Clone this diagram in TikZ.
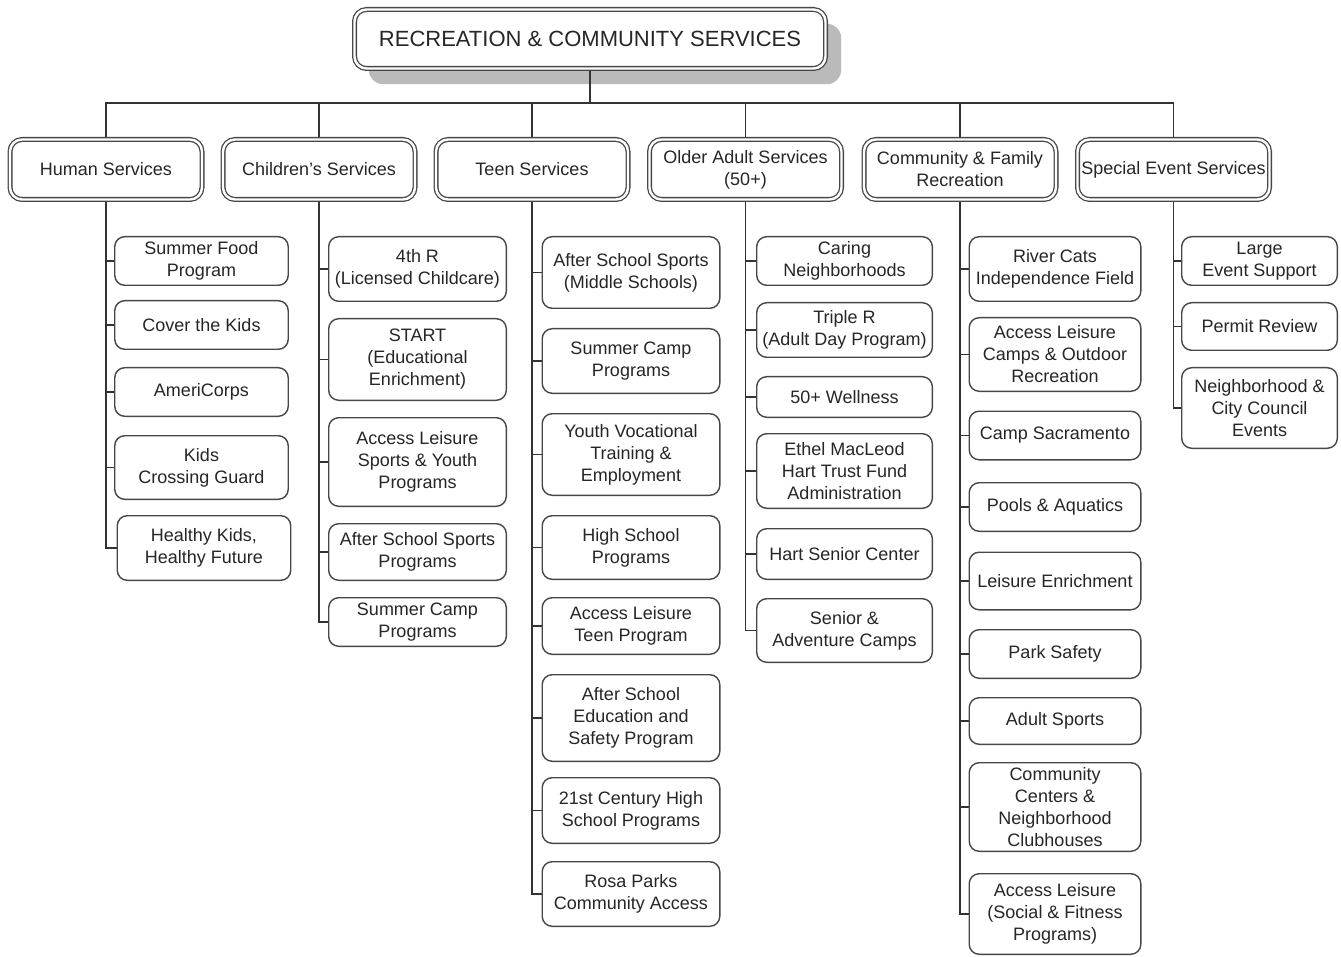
\documentclass[tikz,border=0pt]{standalone}
\usepackage{fontspec}
\setmainfont{Liberation Sans}
\usetikzlibrary{backgrounds}
\begin{document}
\begin{tikzpicture}[x=1pt,y=-1pt,
  cbox/.style={draw=black!72, line width=1.4pt, rounded corners=10pt, fill=white,
    align=center, inner sep=1pt, font=\fontsize{18}{22}\selectfont, text=black!85},
  dbox/.style={draw=black!72, double=white, double distance=2.4pt, line width=1.3pt,
    rounded corners=12pt, fill=white, align=center, inner sep=1pt,
    font=\fontsize{18}{22}\selectfont, text=black!85,
    minimum width=192pt, minimum height=60pt},
  conn/.style={draw=black!80, line width=1.6pt},
  shadowfill/.style={fill=black!27, rounded corners=14pt}
]
\useasboundingbox (0,0) rectangle (1341,957);

% root
\node[dbox, minimum width=471pt, minimum height=59pt, font=\fontsize{22}{26}\selectfont]
  (root) at (590,39) {RECREATION \& COMMUNITY SERVICES};

% level 1
\node[dbox] (h) at (106,169.5) {Human Services};
\node[dbox] (c) at (319,169.5) {Children's Services};
\node[dbox] (t) at (532,169.5) {Teen Services};
\node[dbox] (o) at (745.5,169.5) {Older Adult Services\\(50+)};
\node[dbox] (f) at (960,169.5) {Community \& Family\\Recreation};
\node[dbox] (s) at (1173.5,169.5) {Special Event Services};

% Human Services
\begin{scope}[every node/.append style={cbox, minimum width=173.5pt}]
\node[minimum height=48.6pt] (h1) at (201.5,261) {Summer Food\\Program};
\node[minimum height=48.6pt] (h2) at (201.5,325) {Cover the Kids};
\node[minimum height=48.6pt] (h3) at (201.5,392) {AmeriCorps};
\node[minimum height=63.6pt] (h4) at (201.5,467.5) {Kids\\Crossing Guard};
\node[minimum height=64.6pt] (h5) at (204,548) {Healthy Kids,\\Healthy Future};
\end{scope}

% Children's Services
\begin{scope}[every node/.append style={cbox, minimum width=177.6pt}]
\node[minimum height=64.6pt] (c1) at (417.5,269) {4th R\\(Licensed Childcare)};
\node[minimum height=81.6pt] (c2) at (417.5,359.5) {START\\(Educational\\Enrichment)};
\node[minimum height=88.6pt] (c3) at (417.5,462) {Access Leisure\\Sports \& Youth\\Programs};
\node[minimum height=56.6pt] (c4) at (417.5,552) {After School Sports\\Programs};
\node[minimum height=48.6pt] (c5) at (417.5,622) {Summer Camp\\Programs};
\end{scope}

% Teen Services
\begin{scope}[every node/.append style={cbox, minimum width=177.6pt}]
\node[minimum height=71.6pt] (t1) at (631,272.5) {After School Sports\\(Middle Schools)};
\node[minimum height=64.6pt] (t2) at (631,361) {Summer Camp\\Programs};
\node[minimum height=81.6pt] (t3) at (631,454.5) {Youth Vocational\\Training \&\\Employment};
\node[minimum height=63.6pt] (t4) at (631,547.5) {High School\\Programs};
\node[minimum height=56.6pt] (t5) at (631,626) {Access Leisure\\Teen Program};
\node[minimum height=86.6pt] (t6) at (631,718) {After School\\Education and\\Safety Program};
\node[minimum height=65.6pt] (t7) at (631,810.5) {21st Century High\\School Programs};
\node[minimum height=64.6pt] (t8) at (631,894) {Rosa Parks\\Community Access};
\end{scope}

% Older Adult Services
\begin{scope}[every node/.append style={cbox, minimum width=175.6pt}]
\node[minimum height=48.6pt] (o1) at (844.5,261) {Caring\\Neighborhoods};
\node[minimum height=54.6pt] (o2) at (844.5,330) {Triple R\\(Adult Day Program)};
\node[minimum height=40.6pt] (o3) at (844.5,397) {50+ Wellness};
\node[minimum height=74.6pt] (o4) at (844.5,471) {Ethel MacLeod\\Hart Trust Fund\\Administration};
\node[minimum height=50.6pt] (o5) at (844.5,554) {Hart Senior Center};
\node[minimum height=63.6pt] (o6) at (844.5,630.5) {Senior \&\\Adventure Camps};
\end{scope}

% Community & Family Recreation
\begin{scope}[every node/.append style={cbox, minimum width=171.6pt}]
\node[minimum height=64.6pt] (f1) at (1055,269) {River Cats\\Independence Field};
\node[minimum height=73.6pt] (f2) at (1055,354.5) {Access Leisure\\Camps \& Outdoor\\Recreation};
\node[minimum height=48.6pt] (f3) at (1055,435.5) {Camp Sacramento};
\node[minimum height=48.6pt] (f4) at (1055,507) {Pools \& Aquatics};
\node[minimum height=57.6pt] (f5) at (1055,581) {Leisure Enrichment};
\node[minimum height=48.6pt] (f6) at (1055,654) {Park Safety};
\node[minimum height=46.6pt] (f7) at (1055,721) {Adult Sports};
\node[minimum height=88.6pt] (f8) at (1055,807) {Community\\Centers \&\\Neighborhood\\Clubhouses};
\node[minimum height=80.6pt] (f9) at (1055,914) {Access Leisure\\(Social \& Fitness\\Programs)};
\end{scope}

% Special Event Services
\begin{scope}[every node/.append style={cbox, minimum width=155.6pt}]
\node[minimum height=48.6pt] (s1) at (1259.5,261) {Large\\Event Support};
\node[minimum height=47.6pt] (s2) at (1259.5,326.5) {Permit Review};
\node[minimum height=80.6pt] (s3) at (1259.5,408) {Neighborhood \&\\City Council\\Events};
\end{scope}

\coordinate (bar) at (590,103);

\begin{scope}[on background layer]
  \fill[white] (0,0) rectangle (1341,957);
  \fill[shadowfill] ([shift={(15,15)}]root.north west) rectangle ([shift={(15,15)}]root.south east);
  % root to bar
  \draw[conn] (root.south) -- (bar);
  \draw[conn] (h.north) |- (s.north |- bar) -- (s.north);
  \foreach \n in {c,t,o,f} \draw[conn] (\n.north) -- (\n.north |- bar);
  % columns
  \draw[conn] (h.south) |- (h5.west);
  \foreach \n in {h1,h2,h3,h4} \draw[conn] (h.south |- \n.west) -- (\n.west);
  \draw[conn] (c.south) |- (c5.west);
  \foreach \n in {c1,c2,c3,c4} \draw[conn] (c.south |- \n.west) -- (\n.west);
  \draw[conn] (t.south) |- (t8.west);
  \foreach \n in {t1,t2,t3,t4,t5,t6,t7} \draw[conn] (t.south |- \n.west) -- (\n.west);
  \draw[conn] (o.south) |- (o6.west);
  \foreach \n in {o1,o2,o3,o4,o5} \draw[conn] (o.south |- \n.west) -- (\n.west);
  \draw[conn] (f.south) |- (f9.west);
  \foreach \n in {f1,f2,f3,f4,f5,f6,f7,f8} \draw[conn] (f.south |- \n.west) -- (\n.west);
  \draw[conn] (s.south) |- (s3.west);
  \foreach \n in {s1,s2} \draw[conn] (s.south |- \n.west) -- (\n.west);
\end{scope}
\end{tikzpicture}
\end{document}
